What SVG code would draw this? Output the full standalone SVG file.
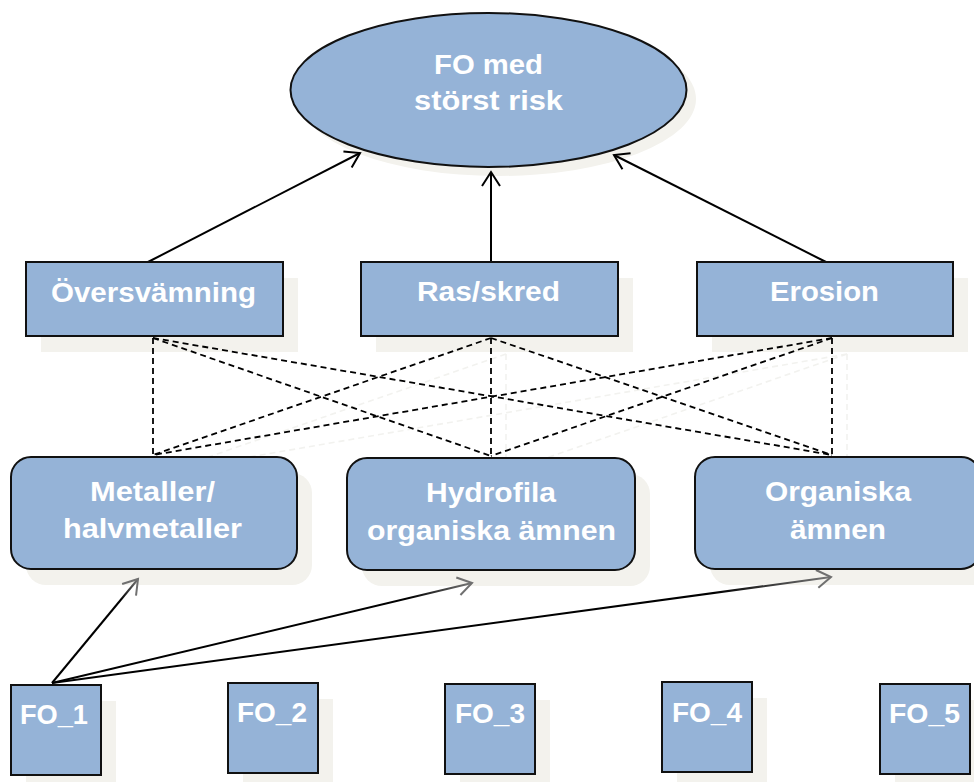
<svg xmlns="http://www.w3.org/2000/svg" width="974" height="782" viewBox="0 0 974 782">
<style>
.box{fill:#95b3d7;stroke:#111;stroke-width:2}
.shd{fill:#f3f2ed;stroke:none}
.lbl{font-family:"Liberation Sans",Arial,sans-serif;font-weight:bold;font-size:27px;fill:#fff;text-anchor:middle}
.arr{fill:none;stroke:#000;stroke-width:2}
.dash{fill:none;stroke:#000;stroke-width:1.8;stroke-dasharray:6 4}
.dshd{fill:none;stroke:#f2f2ef;stroke-width:1.6;stroke-dasharray:6 4}
</style>
<defs>
<marker id="ah" markerUnits="userSpaceOnUse" markerWidth="20" markerHeight="22" refX="15" refY="10" orient="auto">
<path d="M1,1 L15,10 L1,19" fill="none" stroke="#000" stroke-width="2"/>
</marker>
<marker id="ahg" markerUnits="userSpaceOnUse" markerWidth="20" markerHeight="22" refX="15" refY="10" orient="auto">
<path d="M1,1 L15,10 L1,19" fill="none" stroke="#707070" stroke-width="2"/>
</marker>
<linearGradient id="g1" gradientUnits="userSpaceOnUse" x1="52" y1="683" x2="138" y2="579"><stop offset="0" stop-color="#000"/><stop offset="0.8" stop-color="#000"/><stop offset="1" stop-color="#777"/></linearGradient>
<linearGradient id="g2" gradientUnits="userSpaceOnUse" x1="52" y1="683" x2="472" y2="583"><stop offset="0" stop-color="#000"/><stop offset="0.85" stop-color="#000"/><stop offset="1" stop-color="#777"/></linearGradient>
<linearGradient id="g3" gradientUnits="userSpaceOnUse" x1="52" y1="683" x2="831" y2="577"><stop offset="0" stop-color="#000"/><stop offset="0.85" stop-color="#000"/><stop offset="1" stop-color="#777"/></linearGradient>
</defs>
<rect width="974" height="782" fill="#fff"/>

<g id="shadows">
<ellipse class="shd" cx="498" cy="99" rx="198" ry="77"/>
<rect class="shd" x="41" y="278" width="257" height="74"/>
<rect class="shd" x="376" y="278" width="257" height="74"/>
<rect class="shd" x="712" y="278" width="256" height="74"/>
<rect class="shd" x="26" y="473" width="286" height="112" rx="20"/>
<rect class="shd" x="362" y="474" width="288" height="112" rx="20"/>
<rect class="shd" x="710" y="473" width="286" height="112" rx="20"/>
<rect class="shd" x="26" y="701" width="90" height="90"/>
<rect class="shd" x="243" y="699" width="90" height="90"/>
<rect class="shd" x="460" y="700" width="90" height="90"/>
<rect class="shd" x="677" y="698" width="90" height="90"/>
<rect class="shd" x="895" y="700" width="90" height="90"/>
</g>

<g id="connector-shadows">
<path class="dshd" d="M506,354 L168,471 M506,354 L506,472 M847,354 L168,471 M847,354 L506,472 M847,354 L847,471"/>
</g>

<g id="connectors">
<path class="arr" d="M148,262 L360,153" marker-end="url(#ah)"/>
<path class="arr" d="M491,262 L491,172" marker-end="url(#ah)"/>
<path class="arr" d="M826,262 L614,155" marker-end="url(#ah)"/>
<path class="dash" d="M153,338 L153,455"/>
<path class="dash" d="M153,338 L491,456"/>
<path class="dash" d="M153,338 L832,455"/>
<path class="dash" d="M491,338 L153,455"/>
<path class="dash" d="M491,338 L491,456"/>
<path class="dash" d="M491,338 L832,455"/>
<path class="dash" d="M832,338 L153,455"/>
<path class="dash" d="M832,338 L491,456"/>
<path class="dash" d="M832,338 L832,455"/>
<path d="M52,683 L138,579" fill="none" stroke="url(#g1)" stroke-width="2" marker-end="url(#ahg)"/>
<path d="M52,683 L472,583" fill="none" stroke="url(#g2)" stroke-width="2" marker-end="url(#ahg)"/>
<path d="M52,683 L831,577" fill="none" stroke="url(#g3)" stroke-width="2" marker-end="url(#ahg)"/>
</g>

<g id="node-risk">
<ellipse class="box" cx="488.5" cy="90" rx="198" ry="77"/>
<text class="lbl" x="488.5" y="74" textLength="109" lengthAdjust="spacingAndGlyphs">FO med</text>
<text class="lbl" x="488.5" y="110" textLength="149" lengthAdjust="spacingAndGlyphs">störst risk</text>
</g>

<g id="node-oversvamning">
<rect class="box" x="26" y="262" width="257" height="74"/>
<text class="lbl" x="153.5" y="302" textLength="205" lengthAdjust="spacingAndGlyphs">Översvämning</text>
</g>
<g id="node-rasskred">
<rect class="box" x="361" y="262" width="257" height="74"/>
<text class="lbl" x="488.5" y="301" textLength="143" lengthAdjust="spacingAndGlyphs">Ras/skred</text>
</g>
<g id="node-erosion">
<rect class="box" x="697" y="262" width="256" height="74"/>
<text class="lbl" x="824.5" y="301" textLength="109" lengthAdjust="spacingAndGlyphs">Erosion</text>
</g>

<g id="node-metaller">
<rect class="box" x="11" y="457" width="286" height="112" rx="20"/>
<text class="lbl" x="152.5" y="501" textLength="125" lengthAdjust="spacingAndGlyphs">Metaller/</text>
<text class="lbl" x="152.5" y="538" textLength="179" lengthAdjust="spacingAndGlyphs">halvmetaller</text>
</g>
<g id="node-hydrofila">
<rect class="box" x="347" y="458" width="288" height="112" rx="20"/>
<text class="lbl" x="491" y="502" textLength="130" lengthAdjust="spacingAndGlyphs">Hydrofila</text>
<text class="lbl" x="491.5" y="540" textLength="249" lengthAdjust="spacingAndGlyphs">organiska ämnen</text>
</g>
<g id="node-organiska">
<rect class="box" x="695" y="457" width="286" height="112" rx="20"/>
<text class="lbl" x="838" y="501" textLength="146" lengthAdjust="spacingAndGlyphs">Organiska</text>
<text class="lbl" x="838" y="539" textLength="96" lengthAdjust="spacingAndGlyphs">ämnen</text>
</g>

<g id="node-fo1">
<rect class="box" x="11" y="685" width="90" height="90"/>
<text class="lbl" x="54" y="724" textLength="68" lengthAdjust="spacingAndGlyphs">FO_1</text>
</g>
<g id="node-fo2">
<rect class="box" x="228" y="683" width="90" height="90"/>
<text class="lbl" x="272" y="722" textLength="70" lengthAdjust="spacingAndGlyphs">FO_2</text>
</g>
<g id="node-fo3">
<rect class="box" x="445" y="684" width="90" height="90"/>
<text class="lbl" x="490" y="723" textLength="70" lengthAdjust="spacingAndGlyphs">FO_3</text>
</g>
<g id="node-fo4">
<rect class="box" x="662" y="682" width="90" height="90"/>
<text class="lbl" x="707" y="722" textLength="70" lengthAdjust="spacingAndGlyphs">FO_4</text>
</g>
<g id="node-fo5">
<rect class="box" x="880" y="684" width="90" height="90"/>
<text class="lbl" x="924.5" y="723" textLength="71" lengthAdjust="spacingAndGlyphs">FO_5</text>
</g>
</svg>
